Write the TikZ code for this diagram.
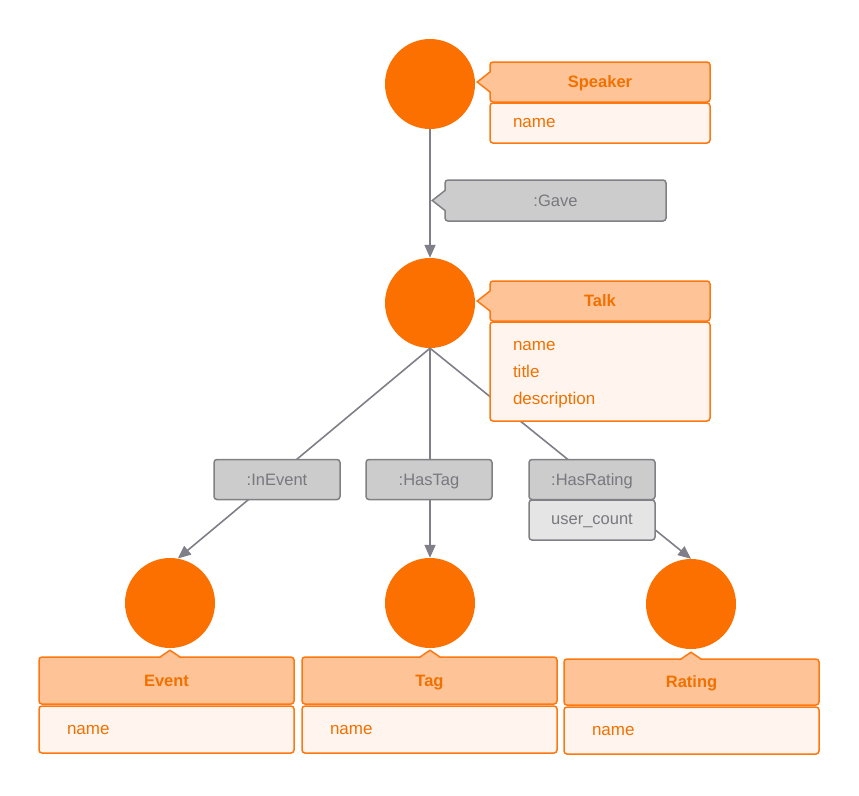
\documentclass[tikz,border=0pt]{standalone}
\usepackage{fontspec}
\setmainfont{Liberation Sans}
\usetikzlibrary{arrows.meta}
\definecolor{orC}{HTML}{FC7000}
\definecolor{orB}{HTML}{FD7810}
\definecolor{orT}{HTML}{F27000}
\definecolor{hdrF}{HTML}{FEC497}
\definecolor{bodyF}{HTML}{FFF5EE}
\definecolor{grF}{HTML}{CCCCCC}
\definecolor{grL}{HTML}{E5E5E5}
\definecolor{grB}{HTML}{808085}
\definecolor{grT}{HTML}{78787E}
\definecolor{edgeC}{HTML}{807F88}
\newcommand\mynotchleft[3]{%
  \fill[#2] ([xshift=2pt,yshift=10pt]#1.west) -- ([xshift=-12pt]#1.west) -- ([xshift=2pt,yshift=-10pt]#1.west) -- cycle;
  \draw[#3,line width=1.5pt,line join=miter] ([xshift=0.75pt,yshift=10pt]#1.west) -- ([xshift=-12pt]#1.west) -- ([xshift=0.75pt,yshift=-10pt]#1.west);}
\newcommand\mynotchup[3]{%
  \fill[#2] ([xshift=-10pt,yshift=-2pt]#1) -- ([yshift=6pt]#1) -- ([xshift=10pt,yshift=-2pt]#1) -- cycle;
  \draw[#3,line width=1.5pt,line join=miter] ([xshift=-10pt,yshift=-0.75pt]#1) -- ([yshift=6pt]#1) -- ([xshift=10pt,yshift=-0.75pt]#1);}
\begin{document}
\begin{tikzpicture}[x=1pt,y=-1pt,
  obj/.style={circle,fill=orC,minimum size=90pt,inner sep=0pt},
  hdr/.style={rectangle,rounded corners=3pt,draw=orB,fill=hdrF,line width=1.5pt,
    text=orT,font=\bfseries\fontsize{16.5}{19}\selectfont,inner sep=0pt,
    text height=11.8pt,text depth=0pt},
  bodybox/.style={rectangle,rounded corners=3pt,draw=orB,fill=bodyF,line width=1.5pt,
    text=orT,font=\fontsize{17}{27}\selectfont,align=left,inner ysep=0pt},
  onel/.style={text height=9pt,text depth=0pt},
  rel/.style={rectangle,rounded corners=3pt,draw=grB,fill=grF,line width=1.5pt,
    text=grT,font=\fontsize{16.5}{19}\selectfont,minimum width=126pt,minimum height=40pt,inner sep=0pt,
    text height=11.8pt,text depth=0pt},
  edge/.style={draw=edgeC,line width=1.6pt},
  arr/.style={edge,-{Triangle[length=13pt,width=11pt]}}]
\useasboundingbox[fill=white] (0,0) rectangle (859,795);

% circles
\node[obj] (speaker) at (430,84) {};
\node[obj] (talk) at (430,303) {};
\node[obj] (event) at (170,603) {};
\node[obj] (tag) at (430,603) {};
\node[obj] (rating) at (691,604) {};

% edges
\draw[arr] (speaker.south) -- (talk.north);
\draw[arr] (talk.south) -- (event.80);
\draw[arr] (talk.south) -- (tag.north);
\draw[arr] (talk.south) -- (rating.north);

% edge labels
\node[rel,minimum width=221pt,minimum height=41pt] (gave) at (555.5,200.5) {:Gave};
\mynotchleft{gave}{grF}{grB}
\node[rel] (inevent) at (277,479.5) {:InEvent};
\node[rel] (hastag) at (429,479.5) {:HasTag};
\node[rel] (hasrating) at (592,479.5) {:HasRating};
\node[rel,fill=grL,text height=9pt] (usercount) at (592,520) {user\_count};

% Speaker
\node[hdr,minimum width=220pt,minimum height=40pt] (speakerH) at (600,82) {Speaker};
\mynotchleft{speakerH}{hdrF}{orB}
\node[bodybox,onel,text width=174pt,inner xsep=23pt,minimum height=40pt] (speakerB) at (600,123) {name};

% Talk
\node[hdr,minimum width=220pt,minimum height=40pt] (talkH) at (600,301) {Talk};
\mynotchleft{talkH}{hdrF}{orB}
\node[bodybox,text width=174pt,inner xsep=23pt,minimum height=99pt,text height=15pt] (talkB) at (600,371.5) {name\\title\\description};

% Event
\node[hdr,minimum width=255pt,minimum height=47pt] (eventH) at (166.5,680.5) {Event};
\mynotchup{eventH.north -| event.south}{hdrF}{orB}
\node[bodybox,onel,text width=199pt,inner xsep=28pt,minimum height=47pt] (eventB) at (166.5,729.5) {name};

% Tag
\node[hdr,minimum width=255pt,minimum height=47pt] (tagH) at (429.5,680.5) {Tag};
\mynotchup{tagH.north -| tag.south}{hdrF}{orB}
\node[bodybox,onel,text width=199pt,inner xsep=28pt,minimum height=47pt] (tagB) at (429.5,729.5) {name};

% Rating
\node[hdr,minimum width=255pt,minimum height=46pt] (ratingH) at (691.5,682) {Rating};
\mynotchup{ratingH.north -| rating.south}{hdrF}{orB}
\node[bodybox,onel,text width=199pt,inner xsep=28pt,minimum height=47pt] (ratingB) at (691.5,730.5) {name};
\end{tikzpicture}
\end{document}
